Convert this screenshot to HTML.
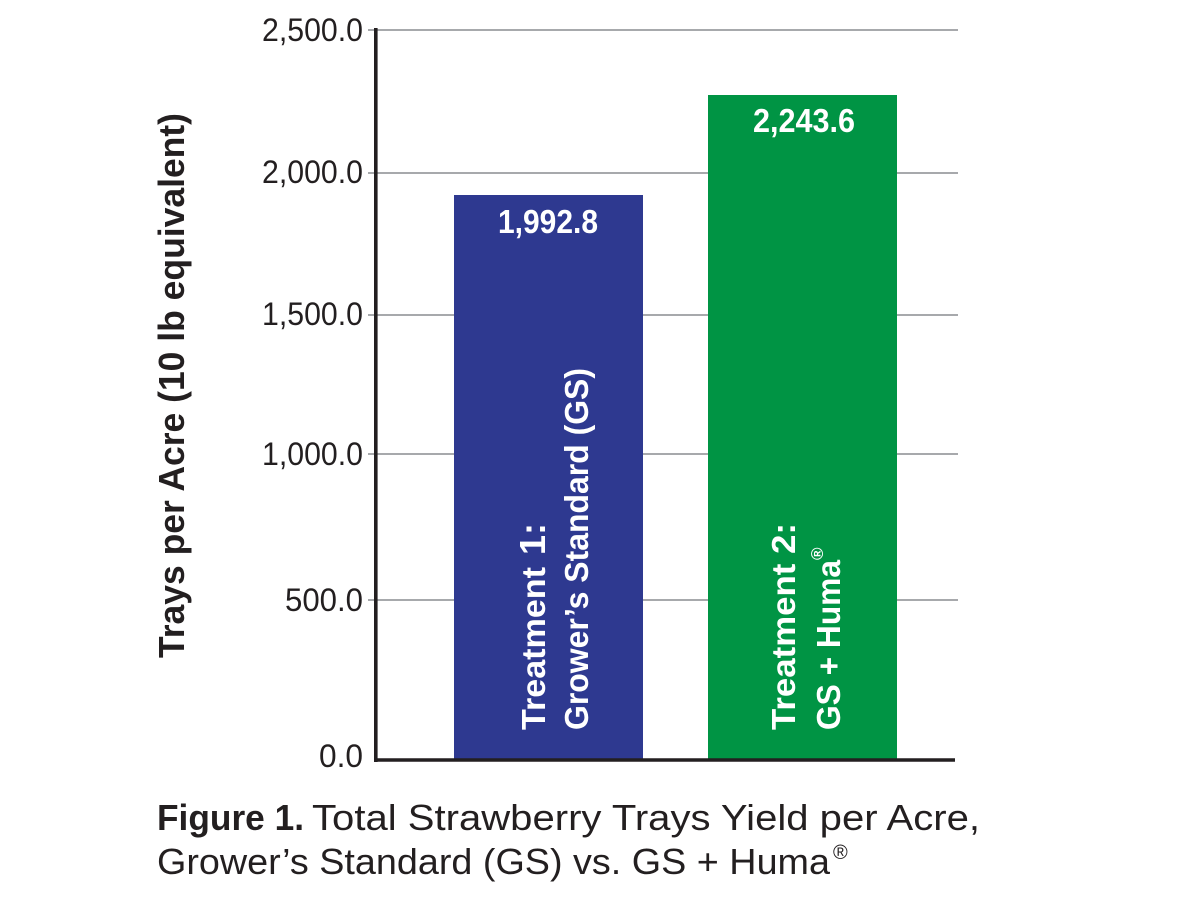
<!DOCTYPE html>
<html>
<head>
<meta charset="utf-8">
<style>
  html, body { margin: 0; padding: 0; background: #ffffff; }
  body { width: 1180px; height: 900px; overflow: hidden; }
  svg { display: block; }
  text { font-family: "Liberation Sans", "DejaVu Sans", sans-serif; }
</style>
</head>
<body>
<svg width="1180" height="900" viewBox="0 0 1180 900" xmlns="http://www.w3.org/2000/svg">
  <rect x="0" y="0" width="1180" height="900" fill="#ffffff"/>

  <!-- gridlines -->
  <g stroke="#a7a9ac" stroke-width="2">
    <line x1="368" y1="30" x2="958" y2="30"/>
    <line x1="368" y1="173" x2="958" y2="173"/>
    <line x1="368" y1="315" x2="958" y2="315"/>
    <line x1="368" y1="454" x2="958" y2="454"/>
    <line x1="368" y1="600" x2="958" y2="600"/>
  </g>

  <!-- bars -->
  <rect x="454" y="195" width="189" height="564" fill="#2e3990"/>
  <rect x="708" y="95" width="189" height="664" fill="#009444"/>

  <!-- axes -->
  <line x1="375.8" y1="28" x2="375.8" y2="762" stroke="#231f20" stroke-width="3.6"/>
  <line x1="374" y1="760" x2="955" y2="760" stroke="#231f20" stroke-width="3.6"/>

  <!-- tick labels -->
  <g font-size="32" fill="#231f20" text-anchor="end">
    <text x="363" y="41" textLength="101" lengthAdjust="spacingAndGlyphs">2,500.0</text>
    <text x="363" y="183" textLength="101" lengthAdjust="spacingAndGlyphs">2,000.0</text>
    <text x="363" y="325" textLength="101" lengthAdjust="spacingAndGlyphs">1,500.0</text>
    <text x="363" y="465" textLength="101" lengthAdjust="spacingAndGlyphs">1,000.0</text>
    <text x="363" y="611" textLength="78" lengthAdjust="spacingAndGlyphs">500.0</text>
    <text x="363" y="767" textLength="44" lengthAdjust="spacingAndGlyphs">0.0</text>
  </g>

  <!-- y axis title -->
  <text transform="translate(184,658) rotate(-90)" font-size="36" font-weight="bold" fill="#231f20" textLength="545" lengthAdjust="spacingAndGlyphs">Trays per Acre (10 lb equivalent)</text>

  <!-- value labels -->
  <text x="548" y="233" font-size="33" font-weight="bold" fill="#ffffff" text-anchor="middle" textLength="100" lengthAdjust="spacingAndGlyphs">1,992.8</text>
  <text x="804" y="132" font-size="33" font-weight="bold" fill="#ffffff" text-anchor="middle" textLength="102" lengthAdjust="spacingAndGlyphs">2,243.6</text>

  <!-- bar category labels (rotated) -->
  <g font-size="33" font-weight="bold" fill="#ffffff">
    <text transform="translate(545,730) rotate(-90)"><tspan textLength="163" lengthAdjust="spacingAndGlyphs">Treatment</tspan><tspan x="175" font-size="36" textLength="32" lengthAdjust="spacingAndGlyphs">1:</tspan></text>
    <text transform="translate(588,730) rotate(-90)" textLength="362" lengthAdjust="spacingAndGlyphs">Grower’s Standard (GS)</text>
    <text transform="translate(795,730) rotate(-90)" textLength="207" lengthAdjust="spacingAndGlyphs">Treatment 2:</text>
    <text transform="translate(840,730) rotate(-90)"><tspan textLength="170" lengthAdjust="spacingAndGlyphs">GS + Huma</tspan><tspan font-size="17" dy="-17">®</tspan></text>
  </g>

  <!-- caption -->
  <g fill="#231f20" font-size="36">
    <text x="157" y="830" font-weight="bold" textLength="147" lengthAdjust="spacingAndGlyphs">Figure 1.</text>
    <text x="312" y="830" textLength="668" lengthAdjust="spacingAndGlyphs">Total Strawberry Trays Yield per Acre,</text>
    <text x="157" y="874" textLength="673" lengthAdjust="spacingAndGlyphs">Grower’s Standard (GS) vs. GS + Huma</text>
    <text x="833" y="859" font-size="20">®</text>
  </g>
</svg>
</body>
</html>
